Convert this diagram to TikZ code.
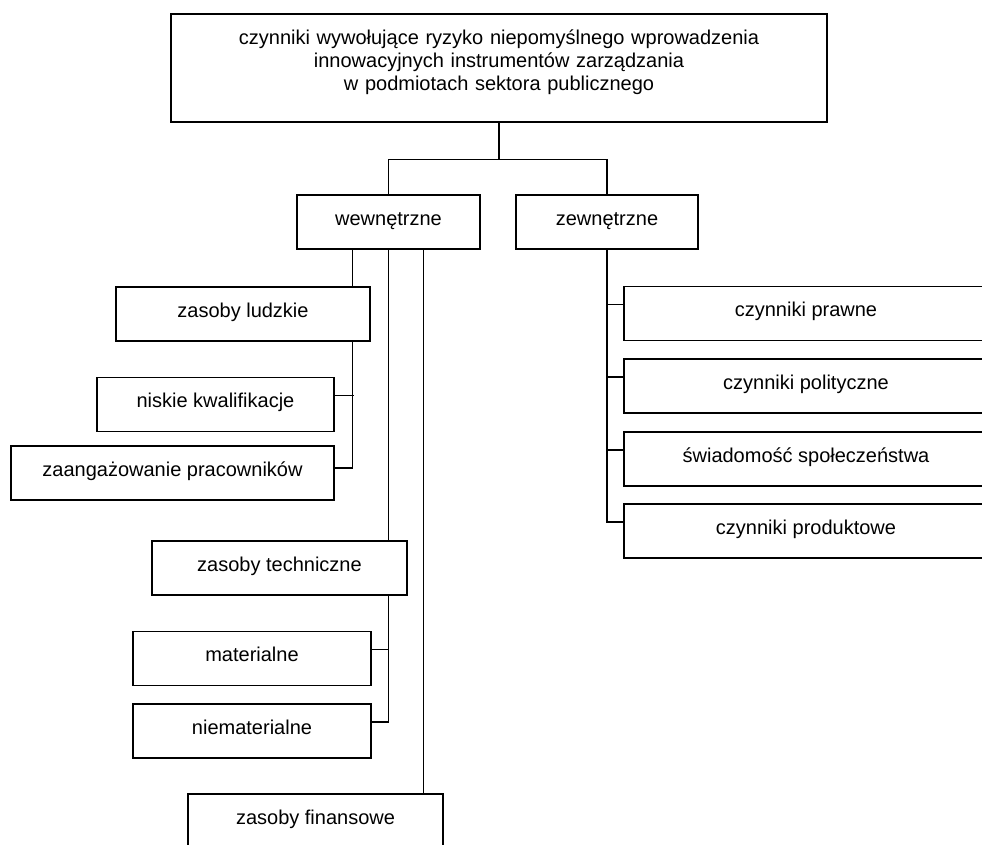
\documentclass[tikz,border=0pt]{standalone}
\usepackage{fontspec}
\setmainfont{Liberation Sans}

\begin{document}
\begin{tikzpicture}[x=0.6pt, y=-0.6pt, line width=0.75pt,
    box/.style={draw=black, inner sep=0pt, text height=18pt, text depth=14.4pt,
      font=\fontsize{12}{13.8}\selectfont},
    outer/.style={box, minimum width=218.4pt}]
    \useasboundingbox (0, 0) rectangle (982, 844);
    % top of the tree
    \node [box, line width=0.9pt, text width=393.6pt, align=center, text height=18.6pt, text depth=46.2pt] (root) at (499, 68)
      {czynniki wywołujące ryzyko niepomyślnego wprowadzenia\\
       innowacyjnych instrumentów zarządzania\\
       w podmiotach sektora publicznego};
    \node [box, minimum width=109.8pt] (wewn) at (388.5, 222) {wewnętrzne};
    \node [box, minimum width=109.2pt] (zewn) at (607, 222) {zewnętrzne};
    \draw (root.south) -- ++(0, 37) coordinate (fork) -| (wewn.north);
    \draw (fork) -| (zewn.north);
    % internal factors
    \node [box, minimum width=152.4pt] (ludzkie) at (243, 314) {zasoby ludzkie};
    \node [box, minimum width=142.2pt] (kwalif) at (215.5, 404.5) {niskie kwalifikacje};
    \node [box, minimum width=193.8pt] (zaang) at (172.5, 473) {zaangażowanie pracowników};
    \node [box, minimum width=153pt] (techn) at (279.5, 568) {zasoby techniczne};
    \node [box, minimum width=142.8pt] (mater) at (252, 658.5) {materialne};
    \node [box, minimum width=142.8pt] (niemat) at (252, 731) {niematerialne};
    \node [box, minimum width=153pt] (finans) at (315.5, 821) {zasoby finansowe};
    % human resources branch
    \path (wewn.south west) ++(56, 0) coordinate (spineA);
    \draw (spineA) -- (spineA |- ludzkie.north);
    \path ([yshift=3pt]zaang.east) coordinate (zaangIn);
    \draw (spineA |- ludzkie.south) |- (zaangIn);
    \draw ([yshift=5.4pt]kwalif.east) -- ++(19, 0);
    % technical resources branch
    \draw (wewn.south) -- (wewn.south |- techn.north);
    \path ([yshift=5.4pt]niemat.east) coordinate (niematIn);
    \draw (wewn.south |- techn.south) |- (niematIn);
    \draw ([yshift=5.4pt]mater.east) -- ++(17.5, 0);
    % financial resources branch
    \path (wewn.south west) ++(127, 0) coordinate (spineC);
    \draw (spineC) -- (spineC |- finans.north);
    % external factors
    \node [outer] (prawne) at (806, 313.5) {czynniki prawne};
    \node [outer] (polit) at (806, 386) {czynniki polityczne};
    \node [outer] (swiad) at (806, 459) {świadomość społeczeństwa};
    \node [outer] (produkt) at (806, 531) {czynniki produktowe};
    \path ([yshift=5.4pt]produkt.west) coordinate (produktIn);
    \draw (zewn.south) |- (produktIn);
    \foreach \n in {prawne, polit, swiad}
      \draw ([yshift=5.4pt]\n.west) -- ++(-17, 0);
  \end{tikzpicture}
\end{document}
